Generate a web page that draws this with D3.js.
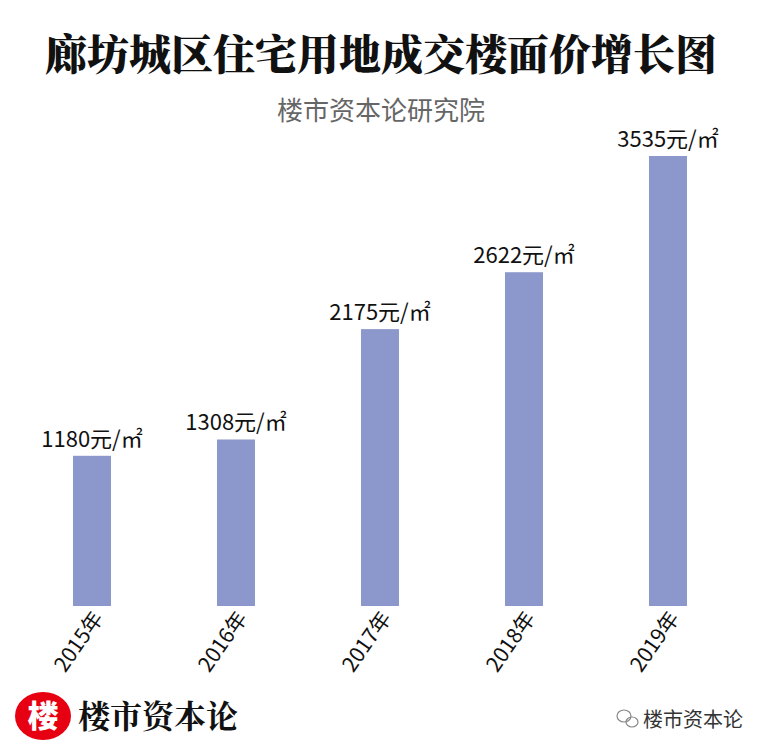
<!DOCTYPE html>
<html><head><meta charset="utf-8">
<script src="https://cdn.jsdelivr.net/npm/d3@7"></script>
<style>body{margin:0;background:#fff}</style>
</head><body><svg></svg>
<script>
var years = ["2015年", "2016年", "2017年", "2018年", "2019年"];
var prices = [1180, 1308, 2175, 2622, 3535];
var labels = ["1180元/㎡", "1308元/㎡", "2175元/㎡", "2622元/㎡", "3535元/㎡"];

var width = 763, height = 755;
var svg = d3.select("svg").attr("width", width).attr("height", height);
var font = "'Noto Sans CJK SC', sans-serif";

var x = d3.scaleBand().domain(years).range([20, 740]).paddingInner(0.736).paddingOuter(0.368);
var y = d3.scaleLinear().domain([0, 3535]).range([606, 156]);

svg.append("text").attr("x", 381).attr("y", 70).attr("text-anchor", "middle")
	.style("font-family", "'Noto Serif CJK SC','Noto Sans CJK SC',serif").style("font-weight", 900)
	.style("font-size", "42px").attr("fill", "#111").text("廊坊城区住宅用地成交楼面价增长图");
svg.append("text").attr("x", 381).attr("y", 120).attr("text-anchor", "middle")
	.style("font-family", font).style("font-size", "26px").attr("fill", "#666").text("楼市资本论研究院");

var idx = d3.range(years.length);
svg.selectAll("rect.bar").data(idx).enter().append("rect")
	.attr("x", function(i) { return x(years[i]); })
	.attr("y", function(i) { return y(prices[i]); })
	.attr("width", x.bandwidth())
	.attr("height", function(i) { return y(0) - y(prices[i]); })
	.attr("fill", "#8c98cb");

svg.selectAll("text.val").data(idx).enter().append("text")
	.attr("x", function(i) { return x(years[i]) + x.bandwidth() / 2; })
	.attr("y", function(i) { return y(prices[i]) - 9; })
	.attr("text-anchor", "middle").style("font-family", font).style("font-size", "22px")
	.attr("fill", "#111").text(function(i) { return labels[i]; });

svg.selectAll("text.yr").data(idx).enter().append("text")
	.attr("transform", function(i) {
		return "translate(" + (x(years[i]) + x.bandwidth() / 2 + 12) + ",618) rotate(-55)";
	})
	.attr("text-anchor", "end").style("font-family", font).style("font-size", "21px")
	.attr("fill", "#111").text(function(i) { return years[i]; });

// logo bottom-left
svg.append("ellipse").attr("cx", 43).attr("cy", 716).attr("rx", 28).attr("ry", 24).attr("fill", "#e60012");
svg.append("text").attr("x", 43).attr("y", 727).attr("text-anchor", "middle")
	.style("font-family", font).style("font-weight", 900).style("font-size", "31px").attr("fill", "#fff").text("楼");
svg.append("text").attr("x", 78).attr("y", 728)
	.style("font-family", "'Noto Serif CJK SC','Noto Sans CJK SC',serif").style("font-weight", 700)
	.style("font-size", "32px").attr("fill", "#111").text("楼市资本论");

// wechat mark bottom-right
var w = svg.append("g").attr("transform", "translate(626,720)").attr("fill", "none").attr("stroke", "#888").attr("stroke-width", 1.2);
w.append("ellipse").attr("cx", -2).attr("cy", -4).attr("rx", 7).attr("ry", 6);
w.append("ellipse").attr("cx", 6).attr("cy", 2).attr("rx", 6).attr("ry", 5);
svg.append("text").attr("x", 643).attr("y", 727)
	.style("font-family", font).style("font-size", "20px").attr("fill", "#333").text("楼市资本论");
</script></body></html>
